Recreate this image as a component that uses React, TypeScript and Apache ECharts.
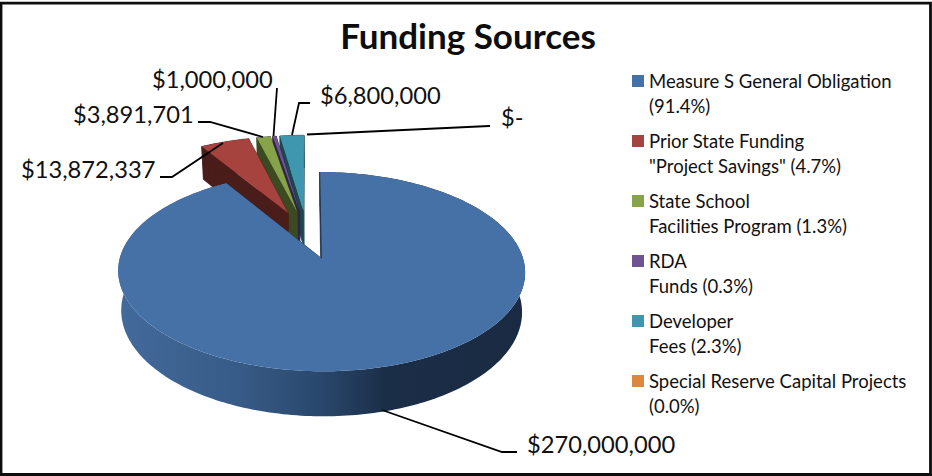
import React, { useEffect, useRef } from "react";
import * as echarts from "echarts";

// Funding amounts in dollars, clockwise from twelve o'clock.
const sourceKeys = ["measureS", "priorState", "stateSchool", "rda", "developer", "specialReserve"];
const fundingValues = [270000000, 13872337, 3891701, 1000000, 6800000, 0];
const legendFirstLines = [
  "Measure S General Obligation",
  "Prior State Funding",
  "State School",
  "RDA",
  "Developer",
  "Special Reserve Capital Projects",
];
const legendSecondLines = [
  "(91.4%)",
  '"Project Savings" (4.7%)',
  "Facilities Program (1.3%)",
  "Funds (0.3%)",
  "Fees (2.3%)",
  "(0.0%)",
];

const titleText = "Funding Sources";
const topColors = ["#4671a6", "#a6433f", "#87a34a", "#6e5491", "#3f96af", "#dd873d"];
const sideColors = ["#1b2d46", "#4a1c1a", "#3c4a22", "#2f2542", "#1e4650", "#6e431e"];
const paintOrder = [4, 5, 3, 2, 1, 0].reduce<number[]>((acc, idx, rank) => {
  acc[idx] = rank + 1;
  return acc;
}, []);

// Perspective model of the disc: unit plane coordinates to page pixels.
const view = { cx: 307.2, cy: 234.4, a: 195, b: 91.5, k: 0.13, depth: 37.7, shrink: 0.985, pivot: 321 };
const EXPLODE = 0.262;
const FONT = "Lato";

const project = (X: number, Y: number, low: boolean): number[] => {
  const w = 1 - view.k * Y;
  let sx = view.cx + (view.a * X) / w;
  let sy = view.cy + (view.b * Y) / w;
  if (low) {
    sx = view.pivot + (sx - view.pivot) * view.shrink;
    sy += view.depth / w;
  }
  return [sx, sy];
};

const outline = (start: number, end: number, low: boolean): number[][] => {
  const mid = (start + end) / 2;
  const ox = EXPLODE * Math.sin(mid);
  const oy = -EXPLODE * Math.cos(mid);
  const pts = [project(ox, oy, low)];
  const steps = Math.max(2, Math.ceil((end - start) / 0.02));
  for (let i = 0; i <= steps; i++) {
    const t = start + ((end - start) * i) / steps;
    pts.push(project(ox + Math.sin(t), oy - Math.cos(t), low));
  }
  return pts;
};

const total = fundingValues.reduce((s, v) => s + v, 0);

const renderSlice = (params: any, api: any) => {
  const idx = params.dataIndex;
  const value = api.value(0);
  if (!value) return { type: "group", children: [] };
  const before = fundingValues.slice(0, idx).reduce((s, v) => s + v, 0);
  const start = (before / total) * Math.PI * 2;
  const end = ((before + value) / total) * Math.PI * 2;
  const top = outline(start, end, false);
  const low = outline(start, end, true);
  const z2 = paintOrder[idx] * 10;
  const children: any[] = [];
  const dark = sideColors[idx];
  // Cut faces and, for the narrow wedges, the rim as well.
  for (let i = 0; i < top.length; i++) {
    const j = (i + 1) % top.length;
    const isRim = i > 0 && i < top.length - 2;
    if (idx === 0 && isRim) continue;
    children.push({
      type: "polygon",
      z2,
      shape: { points: [top[i], top[j], low[j], low[i]] },
      style: { fill: dark, stroke: dark, lineWidth: 0.6 },
    });
  }
  if (idx === 0) {
    // The large slice's rim carries a left-to-right shading.
    children.push({
      type: "polygon",
      z2: z2 + 1,
      shape: { points: [...top.slice(1), ...low.slice(1).reverse()] },
      style: {
        fill: new echarts.graphic.LinearGradient(0, 0, 1, 0, [
          { offset: 0, color: "#426a9b" },
          { offset: 0.3, color: "#375b87" },
          { offset: 0.5, color: "#29476b" },
          { offset: 0.66, color: "#1b2e48" },
          { offset: 1, color: "#1a2a42" },
        ]),
      },
    });
  }
  children.push({
    type: "polygon",
    z2: z2 + 2,
    shape: { points: top },
    style: { fill: topColors[idx] },
  });
  if (idx === 0) {
    children.push({
      type: "line",
      z2: z2 + 3,
      shape: { x1: top[0][0], y1: top[0][1], x2: top[1][0], y2: top[1][1] },
      style: { stroke: "#1f3554", lineWidth: 1 },
    });
  }
  return { type: "group", children };
};

const money = (v: number) => (v === 0 ? "$-" : "$" + v.toLocaleString("en-US"));

// Where each amount's label sits and the leader line running to its slice.
const labelAnchors = [
  { x: 527, y: 444 },
  { x: 21, y: 169 },
  { x: 73, y: 114 },
  { x: 152, y: 79 },
  { x: 320, y: 95 },
  { x: 501, y: 117 },
];
const leaderLines = [
  [[382, 410], [502, 452], [517, 452]],
  [[160, 177], [172, 177], [223, 143]],
  [[198, 122], [210, 122], [263, 137]],
  [[277, 88], [273.5, 136]],
  [[310, 103], [299, 103], [292, 135]],
  [[307, 134.5], [489, 126], [490, 126]],
];

const LEGEND_TOP = 75;
const LEGEND_STEP = 60;

const buildGraphics = () => {
  const items: any[] = [
    {
      type: "rect",
      z: 20,
      shape: { x: 1, y: 3.2, width: 929.5, height: 471.3 },
      style: { fill: "none", stroke: "#0d0d0d", lineWidth: 2.8 },
    },
  ];
  leaderLines.forEach((points, i) => {
    items.push({
      type: "polyline",
      z: 15,
      shape: { points },
      style: { fill: "none", stroke: "#000", lineWidth: 1.8 },
    });
    items.push({
      type: "text",
      z: 16,
      x: labelAnchors[i].x,
      y: labelAnchors[i].y,
      style: {
        text: money(fundingValues[i]),
        font: `23.7px ${FONT}`,
        fill: "#111",
        textAlign: "left",
        textVerticalAlign: "middle",
      },
    });
  });
  sourceKeys.forEach((_, i) => {
    const y = LEGEND_TOP + i * LEGEND_STEP;
    items.push({
      type: "rect",
      z: 16,
      shape: { x: 632, y, width: 12, height: 12 },
      style: { fill: topColors[i] },
    });
    [legendFirstLines[i], legendSecondLines[i]].forEach((line, n) => {
      items.push({
        type: "text",
        z: 16,
        x: 649,
        y: y + 5.5 + n * 25,
        style: {
          text: line,
          font: `18.5px ${FONT}`,
          fill: "#111",
          textAlign: "left",
          textVerticalAlign: "middle",
        },
      });
    });
  });
  return items;
};

export default function App() {
  const ref = useRef<HTMLDivElement>(null);
  useEffect(() => {
    if (!ref.current) return;
    const chart = echarts.init(ref.current, undefined, { renderer: "svg" });
    chart.setOption({
      animation: false,
      backgroundColor: "#fff",
      title: {
        text: titleText,
        left: 463,
        top: 12,
        textAlign: "center",
        textStyle: { fontFamily: FONT, fontWeight: "bold", fontSize: 35, color: "#0d0d0d" },
      },
      series: [
        {
          type: "custom",
          coordinateSystem: "none",
          silent: true,
          data: fundingValues.map((v) => [v]),
          renderItem: renderSlice,
        },
      ],
      graphic: buildGraphics(),
    });
    return () => chart.dispose();
  }, []);
  return (
    <div
      ref={ref}
      style={{ position: "fixed", left: 0, top: 0, width: 932, height: 476 }}
    />
  );
}
